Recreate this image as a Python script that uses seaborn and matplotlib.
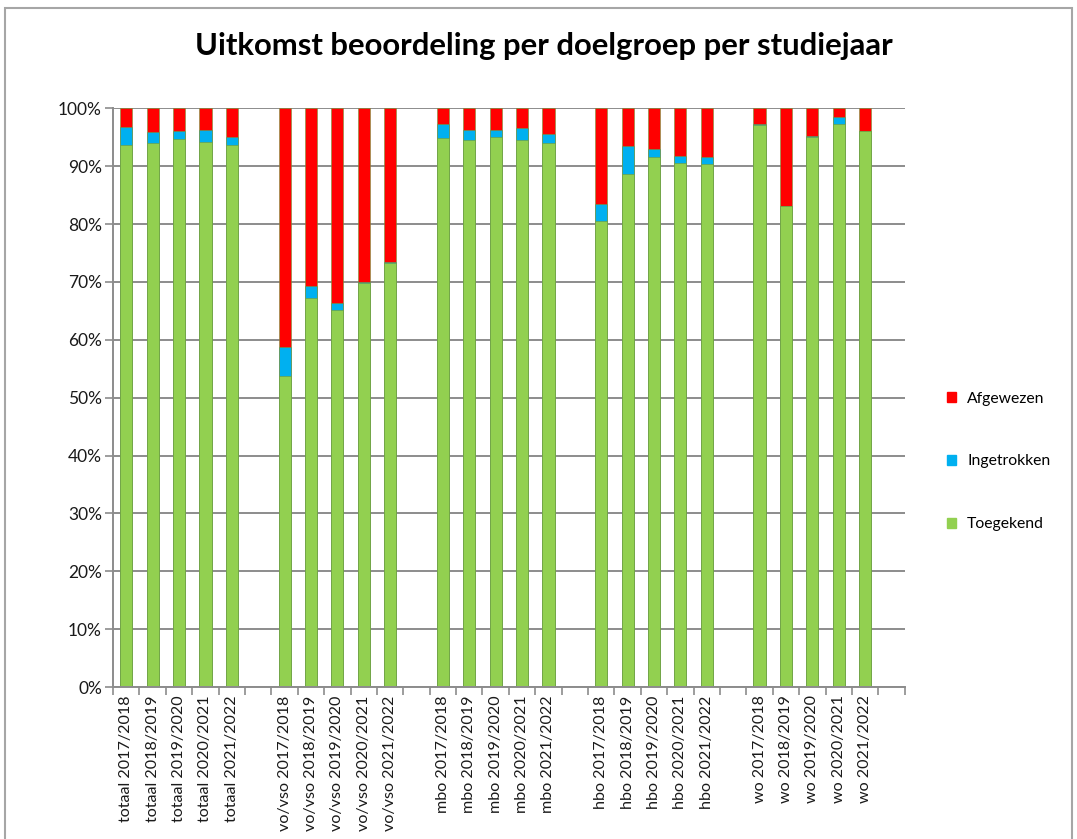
import matplotlib
matplotlib.use("Agg")
import matplotlib.pyplot as plt
import numpy as np
import pandas as pd
import seaborn as sns
from matplotlib.patches import Patch, Rectangle
from matplotlib.ticker import FuncFormatter, MultipleLocator

groups = ["totaal", "vo/vso", "mbo", "hbo", "wo"]
years = ["2017/2018", "2018/2019", "2019/2020", "2020/2021", "2021/2022"]

# percentages per group, in year order
toegekend = [
    93.7, 94.0, 94.7, 94.1, 93.6,
    53.7, 67.2, 65.1, 69.8, 73.3,
    94.8, 94.5, 95.0, 94.5, 94.0,
    80.6, 88.7, 91.5, 90.6, 90.3,
    97.1, 83.1, 95.0, 97.2, 96.1,
]
ingetrokken = [
    3.1, 1.9, 1.3, 2.1, 1.4,
    5.0, 2.1, 1.3, 0.2, 0.1,
    2.4, 1.8, 1.3, 2.1, 1.5,
    2.9, 4.7, 1.5, 1.2, 1.3,
    0.2, 0.0, 0.2, 1.2, 0.0,
]
afgewezen = [
    3.2, 4.1, 4.0, 3.8, 5.0,
    41.3, 30.7, 33.6, 30.0, 26.6,
    2.8, 3.7, 3.7, 3.4, 4.5,
    16.5, 6.6, 7.0, 8.2, 8.4,
    2.7, 16.9, 4.8, 1.6, 3.9,
]

series_names = ["Afgewezen", "Ingetrokken", "Toegekend"]
colors = {"Afgewezen": "#FF0000", "Ingetrokken": "#00B0F0", "Toegekend": "#92D050"}

labels = [f"{g} {y}" for g in groups for y in years]
df = pd.DataFrame({
    "label": labels,
    "Toegekend": toegekend,
    "Ingetrokken": ingetrokken,
    "Afgewezen": afgewezen,
})
df["t"] = df["Toegekend"] / 100
df["ti"] = (df["Toegekend"] + df["Ingetrokken"]) / 100
df["all"] = (df["Toegekend"] + df["Ingetrokken"] + df["Afgewezen"]) / 100

# category order with one empty slot after every group (Excel blank rows)
order = []
for gi, g in enumerate(groups):
    order += [f"{g} {y}" for y in years]
    order.append(" " * (gi + 1))

plt.rcParams["font.family"] = ["Lato", "DejaVu Sans"]
fig = plt.figure(figsize=(10.77, 8.39), dpi=100)
ax = fig.add_axes([0.105, 0.181, 0.735, 0.690])

bar_kw = dict(x="label", order=order, width=0.46, ax=ax, edgecolor="none", saturation=1)
sns.barplot(data=df, y="all", color=colors["Afgewezen"], **bar_kw)
sns.barplot(data=df, y="ti", color=colors["Ingetrokken"], **bar_kw)
sns.barplot(data=df, y="t", color=colors["Toegekend"], **bar_kw)
for p in ax.patches:
    p.set_edgecolor("#6f9a3a")
    p.set_linewidth(0.4)

ax.set_xlim(-0.5, len(order) - 0.5)
ax.set_ylim(0, 1)
ax.yaxis.set_major_locator(MultipleLocator(0.1))
ax.yaxis.set_major_formatter(FuncFormatter(lambda v, _: f"{v * 100:.0f}%"))
ax.grid(axis="y", color="#8c8c8c", linewidth=1.4)
ax.set_axisbelow(True)

ax.set_xticks(range(len(order)))
ax.set_xticklabels([o if o.strip() else "" for o in order], rotation=90,
                   fontsize=11.6, color="#1a1a1a")
ax.set_xticks(np.arange(-0.5, len(order), 1.0), minor=True)
ax.tick_params(axis="x", which="major", length=0, pad=6)
ax.tick_params(axis="x", which="minor", length=6, color="#8c8c8c", width=1.2)
ax.tick_params(axis="y", labelsize=12.5, length=6, color="#8c8c8c", width=1.2, pad=2,
               labelcolor="#1a1a1a")
ax.set_xlabel("")
ax.set_ylabel("")
for side in ["top", "right"]:
    ax.spines[side].set_visible(False)
for side in ["left", "bottom"]:
    ax.spines[side].set_color("#8c8c8c")
    ax.spines[side].set_linewidth(1.4)

fig.text(0.505, 0.945, "Uitkomst beoordeling per doelgroep per studiejaar",
         ha="center", va="center", fontsize=22.3, fontweight="bold")

handles = [Patch(color=colors[n]) for n in series_names]
fig.legend(handles, series_names, loc="center left", bbox_to_anchor=(0.866, 0.45),
           frameon=False, fontsize=11.3, handlelength=0.6, handleheight=0.6,
           handletextpad=0.7, labelspacing=3.1)

fig.patches.append(Rectangle((0.005, -0.01), 0.99, 1.0, transform=fig.transFigure,
                             fill=False, edgecolor="#a6a6a6", linewidth=1.5))

fig.savefig("out.png", dpi=100, facecolor="white")
